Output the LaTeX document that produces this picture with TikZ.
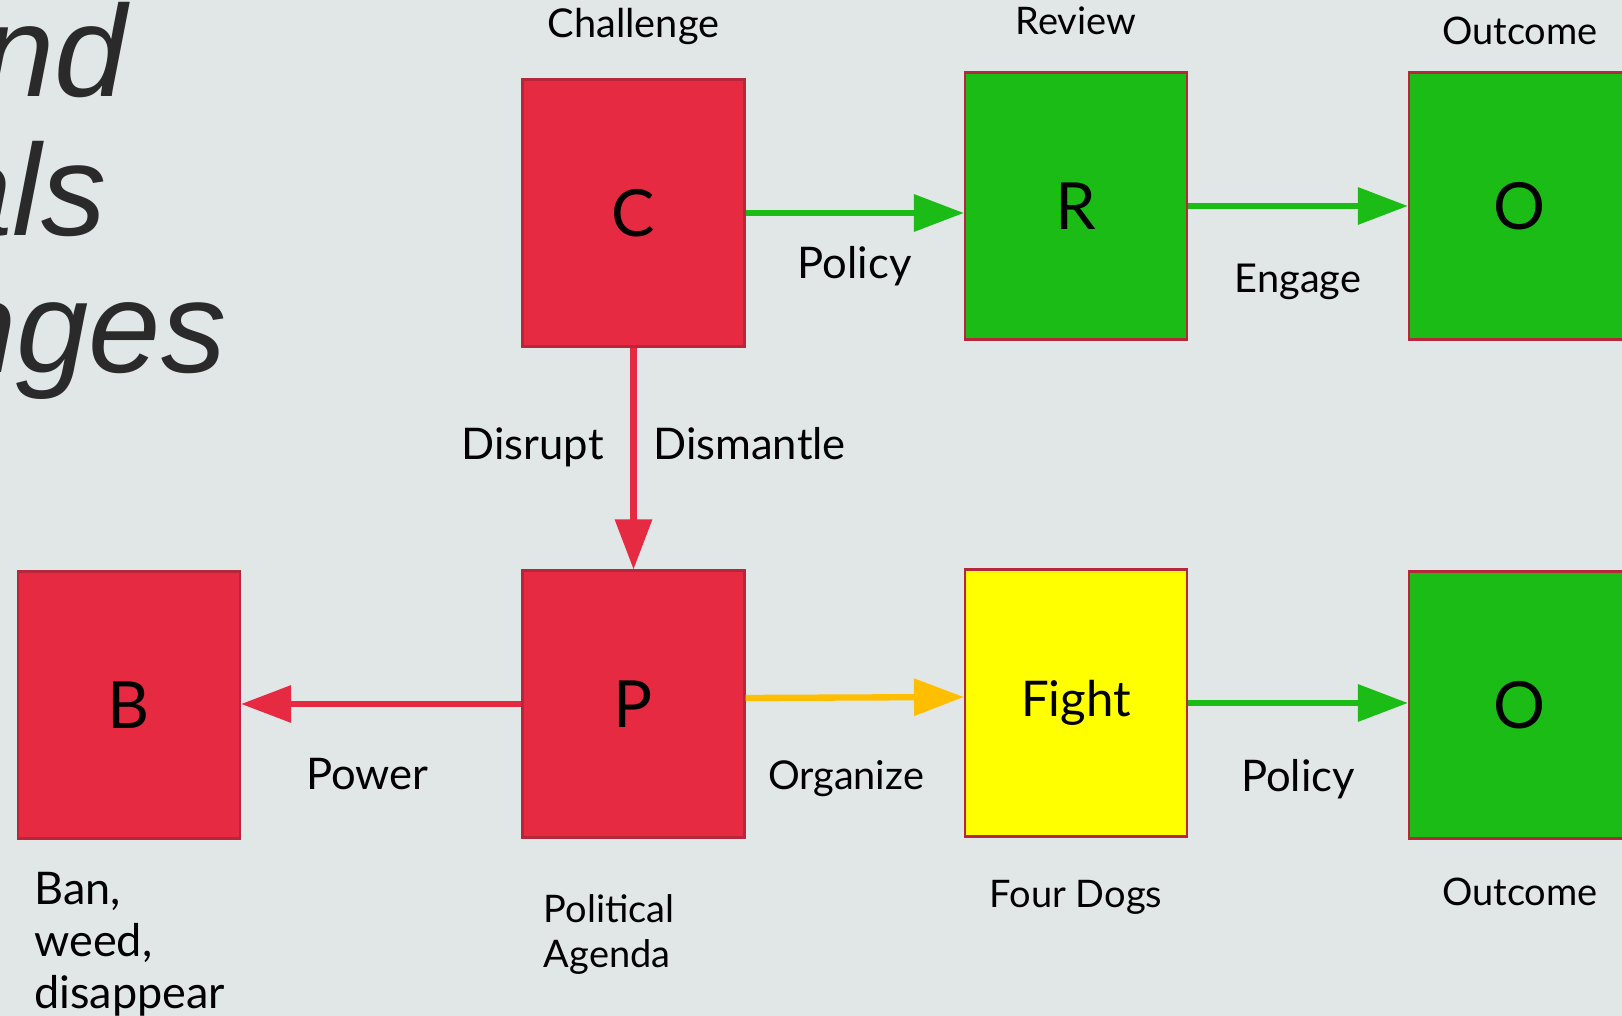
\documentclass[tikz,border=0pt]{standalone}
\usepackage{fontspec}
\setmainfont{Lato}
\newfontfamily\titlefont{Liberation Sans}
\usepackage{tikz}
\usetikzlibrary{arrows.meta,positioning}

\definecolor{bg}{HTML}{E1E7E7}
\definecolor{boxred}{HTML}{E62A42}
\definecolor{edgered}{HTML}{B5273A}
\definecolor{boxgreen}{HTML}{1CBC16}
\definecolor{boxyellow}{HTML}{FFFF00}
\definecolor{linkorange}{HTML}{FFBF00}
\definecolor{titlegray}{HTML}{2A2A2A}

\begin{document}
\begin{tikzpicture}[
	box/.style={rectangle,draw=edgered,line width=0.6pt,minimum width=2.22cm,minimum height=2.67cm,inner sep=0pt,font=\fontsize{18.5}{22}\selectfont},
	link/.style={line width=1.8pt,-{Triangle[length=0.5cm,width=0.36cm]}},
	small/.style={text=black,font=\fontsize{10.8}{13}\selectfont},
	mid/.style={text=black,font=\fontsize{11.3}{13.5}\selectfont},
	big/.style={text=black,font=\fontsize{12.4}{15}\selectfont},
	title/.style={font=\titlefont\itshape\fontsize{37}{40}\selectfont,text=titlegray,anchor=base east,inner sep=0pt}
]
	\useasboundingbox (0,0) rectangle (16.22,10.16);
	\fill[bg] (0,0) rectangle (16.22,10.16);

	\node[title] at (1.28,9.19) (t1) {nd};
	\node[title] at (1.07,7.80) (t2) {als};
	\node[title] at (2.27,6.43) (t3) {nges};

	\node[box,fill=boxred] at (6.335,8.03) (C) {C};
	\node[mid,above=0.21 of C] (Ccap) {Challenge};
	\node[box,fill=boxgreen] at (10.76,8.10) (R) {R};
	\node[small,above=0.24 of R] (Rcap) {Review};
	\node[box,fill=boxgreen] at (15.20,8.10) (O1) {O};
	\node[small,above=0.14 of O1] (O1cap) {Outcome};

	\node[box,fill=boxred] at (1.29,3.11) (B) {B};
	\node[big,align=left,below right=0.20 and 0.05 of B.south west,font=\fontsize{12.8}{14.8}\selectfont] (Bcap) {Ban,\\weed,\\disappear};
	\node[box,fill=boxred] at (6.335,3.12) (P) {P};
	\node[small,align=left,below right=0.44 and 0.10 of P.south west,font=\fontsize{10.8}{12.8}\selectfont] (Pcap) {Political\\Agenda};
	\node[box,fill=boxyellow,font=\fontsize{14}{17}\selectfont] at (10.76,3.13) (F) {Fight};
	\node[small,below=0.30 of F] (Fcap) {Four Dogs};
	\node[box,fill=boxgreen] at (15.20,3.11) (O2) {O};
	\node[small,below=0.26 of O2] (O2cap) {Outcome};

	\draw[link,boxgreen] (C.east) -- (C.east -| R.west) node[big,midway,below=0.19] {Policy};
	\draw[link,boxgreen] (R.east) -- (O1.west) node[mid,midway,below=0.43] {Engage};
	\draw[link,boxred] (C.south) -- (P.north) node[big,pos=0.45,left=0.15] {Disrupt} node[big,pos=0.435,right=0.05] {Dismantle};
	\draw[link,boxred] (P.west) -- (P.west -| B.east) node[big,pos=0.55,below=0.39] {Power};
	\draw[link,linkorange] ([yshift=0.06cm]P.east) -- ([yshift=0.06cm]F.west) node[mid,pos=0.46,below=0.48] {Organize};
	\draw[link,boxgreen] (F.east) -- (F.east -| O2.west) node[big,midway,below=0.42] {Policy};
\end{tikzpicture}
\end{document}
